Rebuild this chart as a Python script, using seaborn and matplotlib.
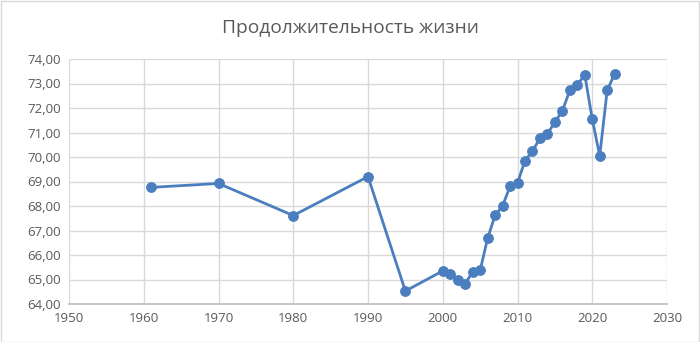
import matplotlib
matplotlib.use("Agg")
import matplotlib.pyplot as plt
import seaborn as sns
import pandas as pd
from matplotlib.ticker import FuncFormatter, MultipleLocator
from matplotlib.patches import Rectangle

years = [1961, 1970, 1980, 1990, 1995, 2000, 2001, 2002, 2003, 2004, 2005,
         2006, 2007, 2008, 2009, 2010, 2011, 2012, 2013, 2014, 2015, 2016,
         2017, 2018, 2019, 2020, 2021, 2022, 2023]
life_expectancy = [68.76, 68.92, 67.61, 69.20, 64.53, 65.35, 65.24, 64.98, 64.83,
                   65.31, 65.37, 66.68, 67.62, 68.00, 68.80, 68.94, 69.85, 70.24,
                   70.76, 70.95, 71.42, 71.88, 72.72, 72.94, 73.36, 71.54, 70.05,
                   72.73, 73.39]
title = "Продолжительность жизни"

df = pd.DataFrame({"year": years, "value": life_expectancy})

sns.set_theme(style="white")
plt.rcParams['font.family'] = ['Open Sans', 'DejaVu Sans']

fig = plt.figure(figsize=(7.0, 3.42), dpi=100)
ax = fig.add_axes([69/700, 38/342, 598/700, 245/342])

line_color = "#4A7EBE"
sns.lineplot(data=df, x="year", y="value", ax=ax, color=line_color,
             linewidth=2.0, marker="o", markersize=7,
             markeredgecolor=line_color, markerfacecolor=line_color)

ax.set_xlim(1950, 2030)
ax.set_ylim(64, 74)
ax.xaxis.set_major_locator(MultipleLocator(10))
ax.yaxis.set_major_locator(MultipleLocator(1))
ax.yaxis.set_major_formatter(FuncFormatter(lambda v, p: f"{v:.2f}".replace(".", ",")))
ax.grid(True, color="#D9D9D9", linewidth=1)
ax.set_axisbelow(True)
for s in ["top", "right", "left"]:
    ax.spines[s].set_visible(False)
ax.spines["bottom"].set_color("#BFBFBF")
ax.tick_params(axis="both", length=0, labelsize=9.5, labelcolor="#595959", pad=6)
ax.set_xlabel("")
ax.set_ylabel("")

fig.suptitle(title, y=1 - 28/342, va="center", fontsize=13.8, color="#595959")

fig.patches.append(Rectangle((0.5/700, 0.5/342), 698.5/700, 340.5/342, transform=fig.transFigure,
                             fill=False, edgecolor="#D9D9D9", linewidth=1))

fig.savefig("out.png", dpi=100)
